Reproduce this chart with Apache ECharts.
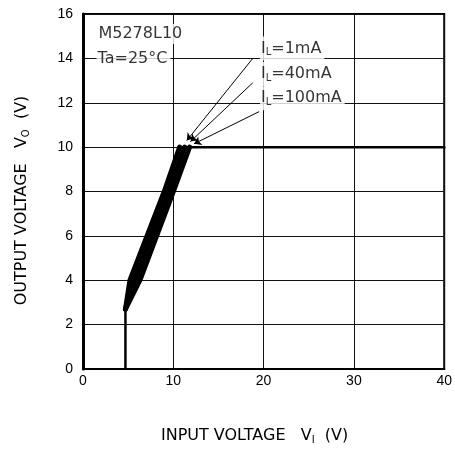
<!DOCTYPE html>
<html>
<head>
<meta charset="utf-8">
<script src="https://cdn.jsdelivr.net/npm/echarts@6/dist/echarts.min.js"></script>
<style>html,body{margin:0;padding:0;background:#fff}#c{width:455px;height:450px}</style>
</head>
<body>
<div id="c"></div>
<script>
// Axis ticks
const xTicks = [0, 10, 20, 30, 40];
const yTicks = [0, 2, 4, 6, 8, 10, 12, 14, 16];

// Start-up segment (all loads)
const startVi = [4.7, 4.7];
const startVo = [0, 2.7];

// Rising part per load current
const vi1mA   = [4.7, 5.2, 9.0, 10.7];
const vo1mA   = [2.7, 4.0, 8.0, 10.0];
const vi40mA  = [4.7, 5.75, 9.5, 11.25];
const vo40mA  = [2.7, 4.0, 8.0, 10.0];
const vi100mA = [4.7, 6.3, 10.0, 11.8];
const vo100mA = [2.7, 4.0, 8.0, 10.0];

// Regulated output (all loads)
const regVi = [10.6, 40];
const regVo = [10, 10];

// Annotation labels
const loadLabels = ['1mA', '40mA', '100mA'];
const loadLabelX = [19.6, 19.6, 19.6];
const loadLabelY = [14.45, 13.3, 12.2];
// Arrows: start -> end
const arrowFromX = [18.8, 18.8, 19.5];
const arrowFromY = [14.0, 12.9, 11.6];
const arrowToX   = [11.5, 11.9, 12.3];
const arrowToY   = [10.3, 10.25, 10.15];

const titleTexts = ['M5278L10', 'Ta=25°C'];
const titleX = [1.6, 1.5];
const titleY = [15.1, 14.0];

function zip(xs, ys) { return xs.map((x, i) => [x, ys[i]]); }

const chart = echarts.init(document.getElementById('c'));
const FONT = 'DejaVu Sans';
const TICKFONT = 'Liberation Sans';

function curve(name, xs, ys, w) {
  return {
    name: name, type: 'line', data: zip(xs, ys), showSymbol: false, symbol: 'none',
    lineStyle: { color: '#000', width: w, join: 'round', cap: 'round' }, z: 5, silent: true
  };
}

chart.setOption({
  animation: false,
  backgroundColor: '#fff',
  grid: { left: 83, right: 7, top: 14, bottom: 78, show: true, borderColor: '#000', borderWidth: 2 },
  xAxis: {
    type: 'value', min: 0, max: 40, interval: 10,
    axisLine: { show: true, lineStyle: { color: '#000', width: 2 } },
    axisTick: { show: false },
    axisLabel: { color: '#000', fontFamily: TICKFONT, fontSize: 14, margin: 5,
      formatter: v => xTicks.includes(v) ? String(v) : '' },
    splitLine: { show: true, lineStyle: { color: '#111', width: 1 } },
    name: '{a|INPUT VOLTAGE   V}{s|I}{a|  (V)}',
    nameLocation: 'middle', nameGap: 58,
    nameTextStyle: { padding: [0, 18, 0, 0],
      rich: { a: { fontFamily: FONT, fontSize: 16, color: '#000' },
              s: { fontFamily: FONT, fontSize: 10, color: '#000', verticalAlign: 'bottom', padding: [8, 0, 0, 0] } } }
  },
  yAxis: {
    type: 'value', min: 0, max: 16, interval: 2,
    axisLine: { show: true, lineStyle: { color: '#000', width: 3 } },
    axisTick: { show: false },
    axisLabel: { color: '#000', fontFamily: TICKFONT, fontSize: 14, margin: 10,
      formatter: v => yTicks.includes(v) ? String(v) : '' },
    splitLine: { show: true, lineStyle: { color: '#111', width: 1 } },
    name: '{a|OUTPUT VOLTAGE   V}{s|O}{a|  (V)}',
    nameLocation: 'middle', nameGap: 52, nameRotate: 90,
    nameTextStyle: { padding: [0, 18, 0, 0],
      rich: { a: { fontFamily: FONT, fontSize: 16, color: '#000' },
              s: { fontFamily: FONT, fontSize: 10, color: '#000', verticalAlign: 'bottom', padding: [8, 0, 0, 0] } } }
  },
  series: [
    curve('start', startVi, startVo, 2.5),
    curve('IL=1mA', vi1mA, vo1mA, 5),
    curve('IL=40mA', vi40mA, vo40mA, 5),
    curve('IL=100mA', vi100mA, vo100mA, 5),
    curve('regulated', regVi, regVo, 2.5),
    {
      type: 'lines', coordinateSystem: 'cartesian2d', z: 6, silent: true,
      symbol: ['none', 'arrow'], symbolSize: 7,
      lineStyle: { color: '#000', width: 1, opacity: 1 },
      data: arrowFromX.map((x, i) => ({ coords: [[x, arrowFromY[i]], [arrowToX[i], arrowToY[i]]] }))
    },
    {
      type: 'scatter', symbolSize: 0, z: 7, silent: true,
      data: loadLabels.map((t, i) => ({
        value: [loadLabelX[i], loadLabelY[i]],
        label: { show: true, position: 'right', distance: 0,
          formatter: '{m|I}{s|L}{m|=' + t + '}',
          backgroundColor: '#fff', padding: [3, 3, 3, 1],
          rich: { m: { fontFamily: FONT, fontSize: 16, color: '#000' },
                  s: { fontFamily: FONT, fontSize: 10, color: '#000', verticalAlign: 'bottom', padding: [8, 0, 0, 0] } } }
      }))
    },
    {
      type: 'scatter', symbolSize: 0, z: 7, silent: true,
      data: titleTexts.map((t, i) => ({
        value: [titleX[i], titleY[i]],
        label: { show: true, position: 'right', distance: 0, formatter: t,
          fontFamily: FONT, fontSize: 16, color: '#000',
          backgroundColor: '#fff', padding: [2, 3, 2, 1] }
      }))
    }
  ]
});
</script>
</body>
</html>
